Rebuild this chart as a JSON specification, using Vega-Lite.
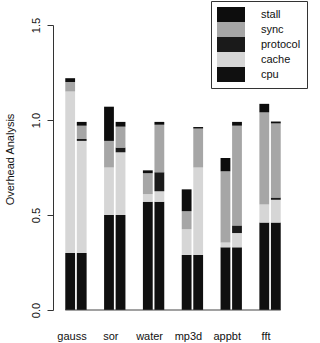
{
  "$schema": "https://vega.github.io/schema/vega-lite/v6.json",
  "width": 240,
  "height": 285,
  "autosize": {"type": "none"},
  "padding": {"left": 53, "top": 25, "right": 27, "bottom": 33},
  "background": "white",
  "config": {
    "font": "Liberation Sans",
    "view": {"stroke": null},
    "axis": {"labelColor": "#111", "titleColor": "#111", "domainColor": "#333", "tickColor": "#333"}
  },
  "layer": [
    {
      "data": {
        "values": [
          {"g": "gauss", "b": "1", "c": "cpu", "o": 1, "v": 0.30},
          {"g": "gauss", "b": "1", "c": "cache", "o": 2, "v": 0.85},
          {"g": "gauss", "b": "1", "c": "protocol", "o": 3, "v": 0.0},
          {"g": "gauss", "b": "1", "c": "sync", "o": 4, "v": 0.05},
          {"g": "gauss", "b": "1", "c": "stall", "o": 5, "v": 0.02},
          {"g": "gauss", "b": "2", "c": "cpu", "o": 1, "v": 0.30},
          {"g": "gauss", "b": "2", "c": "cache", "o": 2, "v": 0.59},
          {"g": "gauss", "b": "2", "c": "protocol", "o": 3, "v": 0.01},
          {"g": "gauss", "b": "2", "c": "sync", "o": 4, "v": 0.07},
          {"g": "gauss", "b": "2", "c": "stall", "o": 5, "v": 0.02},
          {"g": "sor", "b": "1", "c": "cpu", "o": 1, "v": 0.50},
          {"g": "sor", "b": "1", "c": "cache", "o": 2, "v": 0.25},
          {"g": "sor", "b": "1", "c": "protocol", "o": 3, "v": 0.0},
          {"g": "sor", "b": "1", "c": "sync", "o": 4, "v": 0.14},
          {"g": "sor", "b": "1", "c": "stall", "o": 5, "v": 0.18},
          {"g": "sor", "b": "2", "c": "cpu", "o": 1, "v": 0.50},
          {"g": "sor", "b": "2", "c": "cache", "o": 2, "v": 0.33},
          {"g": "sor", "b": "2", "c": "protocol", "o": 3, "v": 0.025},
          {"g": "sor", "b": "2", "c": "sync", "o": 4, "v": 0.11},
          {"g": "sor", "b": "2", "c": "stall", "o": 5, "v": 0.025},
          {"g": "water", "b": "1", "c": "cpu", "o": 1, "v": 0.57},
          {"g": "water", "b": "1", "c": "cache", "o": 2, "v": 0.04},
          {"g": "water", "b": "1", "c": "protocol", "o": 3, "v": 0.0},
          {"g": "water", "b": "1", "c": "sync", "o": 4, "v": 0.11},
          {"g": "water", "b": "1", "c": "stall", "o": 5, "v": 0.015},
          {"g": "water", "b": "2", "c": "cpu", "o": 1, "v": 0.57},
          {"g": "water", "b": "2", "c": "cache", "o": 2, "v": 0.055},
          {"g": "water", "b": "2", "c": "protocol", "o": 3, "v": 0.10},
          {"g": "water", "b": "2", "c": "sync", "o": 4, "v": 0.25},
          {"g": "water", "b": "2", "c": "stall", "o": 5, "v": 0.015},
          {"g": "mp3d", "b": "1", "c": "cpu", "o": 1, "v": 0.29},
          {"g": "mp3d", "b": "1", "c": "cache", "o": 2, "v": 0.135},
          {"g": "mp3d", "b": "1", "c": "protocol", "o": 3, "v": 0.0},
          {"g": "mp3d", "b": "1", "c": "sync", "o": 4, "v": 0.095},
          {"g": "mp3d", "b": "1", "c": "stall", "o": 5, "v": 0.115},
          {"g": "mp3d", "b": "2", "c": "cpu", "o": 1, "v": 0.29},
          {"g": "mp3d", "b": "2", "c": "cache", "o": 2, "v": 0.46},
          {"g": "mp3d", "b": "2", "c": "protocol", "o": 3, "v": 0.0},
          {"g": "mp3d", "b": "2", "c": "sync", "o": 4, "v": 0.205},
          {"g": "mp3d", "b": "2", "c": "stall", "o": 5, "v": 0.008},
          {"g": "appbt", "b": "1", "c": "cpu", "o": 1, "v": 0.33},
          {"g": "appbt", "b": "1", "c": "cache", "o": 2, "v": 0.025},
          {"g": "appbt", "b": "1", "c": "protocol", "o": 3, "v": 0.0},
          {"g": "appbt", "b": "1", "c": "sync", "o": 4, "v": 0.375},
          {"g": "appbt", "b": "1", "c": "stall", "o": 5, "v": 0.07},
          {"g": "appbt", "b": "2", "c": "cpu", "o": 1, "v": 0.33},
          {"g": "appbt", "b": "2", "c": "cache", "o": 2, "v": 0.075},
          {"g": "appbt", "b": "2", "c": "protocol", "o": 3, "v": 0.04},
          {"g": "appbt", "b": "2", "c": "sync", "o": 4, "v": 0.525},
          {"g": "appbt", "b": "2", "c": "stall", "o": 5, "v": 0.02},
          {"g": "fft", "b": "1", "c": "cpu", "o": 1, "v": 0.46},
          {"g": "fft", "b": "1", "c": "cache", "o": 2, "v": 0.095},
          {"g": "fft", "b": "1", "c": "protocol", "o": 3, "v": 0.0},
          {"g": "fft", "b": "1", "c": "sync", "o": 4, "v": 0.485},
          {"g": "fft", "b": "1", "c": "stall", "o": 5, "v": 0.045},
          {"g": "fft", "b": "2", "c": "cpu", "o": 1, "v": 0.46},
          {"g": "fft", "b": "2", "c": "cache", "o": 2, "v": 0.12},
          {"g": "fft", "b": "2", "c": "protocol", "o": 3, "v": 0.012},
          {"g": "fft", "b": "2", "c": "sync", "o": 4, "v": 0.39},
          {"g": "fft", "b": "2", "c": "stall", "o": 5, "v": 0.01}
        ]
      },
      "mark": {"type": "bar"},
      "encoding": {
        "x": {
          "field": "g", "type": "nominal",
          "scale": {"domain": ["gauss", "sor", "water", "mp3d", "appbt", "fft"], "paddingInner": 0.45, "paddingOuter": 0.316},
          "axis": {"title": null, "labelAngle": 0, "domain": false, "ticks": false, "labelPadding": 20, "labelOffset": -4, "labelFontSize": 11}
        },
        "xOffset": {"field": "b", "type": "nominal", "scale": {"paddingInner": 0.15, "paddingOuter": 0}},
        "y": {
          "field": "v", "type": "quantitative", "stack": "zero",
          "scale": {"domain": [0, 1.5], "nice": false},
          "axis": {
            "title": "Overhead Analysis", "titleFontWeight": "normal", "titleFontSize": 11,
            "titleAngle": 270, "titleAlign": "center", "titleBaseline": "middle", "titleX": -43, "titleY": 134,
            "values": [0, 0.5, 1, 1.5], "format": ".1f", "grid": false,
            "labelAngle": 270, "labelAlign": "center", "labelBaseline": "bottom",
            "tickSize": 6, "labelPadding": 6, "labelFontSize": 11
          }
        },
        "color": {
          "field": "c", "type": "nominal",
          "scale": {"domain": ["stall", "sync", "protocol", "cache", "cpu"], "range": ["#0d0d0d", "#a6a6a6", "#1a1a1a", "#d6d6d6", "#101010"]},
          "legend": {
            "title": null, "orient": "none", "legendX": 158, "legendY": -24,
            "symbolType": "M-1.867,-1H1.867V1H-1.867Z", "symbolSize": 225, "symbolStrokeWidth": 0, "symbolOpacity": 1,
            "symbolOffset": 6.5,
            "strokeColor": "#333", "fillColor": "white", "padding": 6, "rowPadding": 0,
            "labelOffset": 22.5, "labelFontSize": 11, "labelColor": "#111",
            "labelExpr": "datum.label + '          '"
          }
        },
        "order": {"field": "o", "type": "quantitative", "sort": "ascending"}
      }
    },
    {
      "data": {"values": [{"g": "gauss", "g2": "fft", "v": 0}]},
      "mark": {"type": "rule", "color": "#444", "strokeWidth": 1},
      "encoding": {
        "x": {"field": "g", "type": "nominal", "bandPosition": 0},
        "x2": {"field": "g2", "bandPosition": 1},
        "y": {"field": "v", "type": "quantitative"}
      }
    }
  ]
}
